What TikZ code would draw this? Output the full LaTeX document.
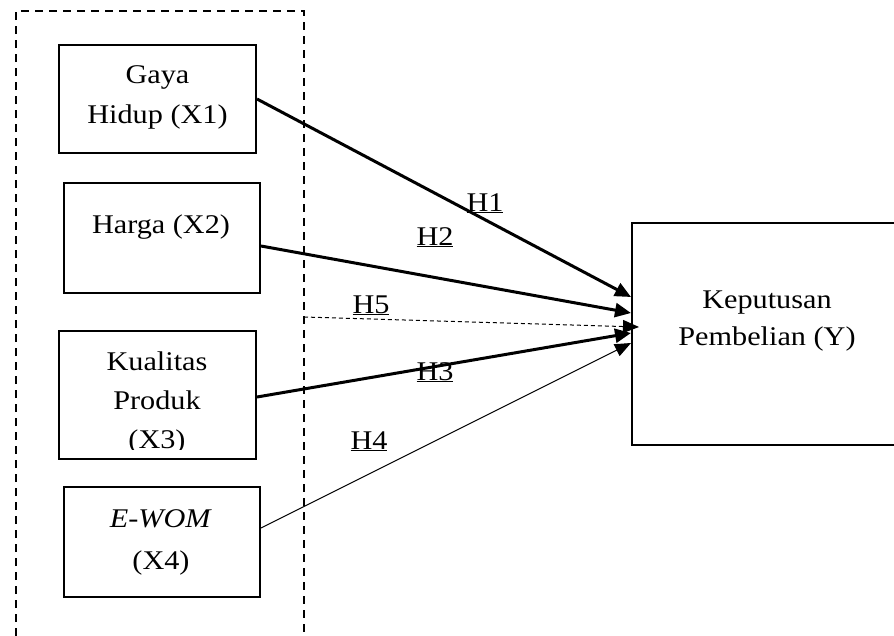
\documentclass[tikz,border=0pt]{standalone}
\usepackage{fontspec}
\setmainfont[FakeStretch=1.12]{Liberation Serif}
\usetikzlibrary{arrows.meta,calc}
\tikzset{
  var-box/.style={
    draw=black,
    line width=2pt,
    rectangle,
    inner sep=0pt
  },
  var-text/.style={
    align=center,
    inner sep=0pt,
    anchor=north,
    font=\fontsize{27}{40}\selectfont
  },
  hyp/.style={
    inner sep=0pt,
    anchor=base,
    font=\fontsize{27}{30}\selectfont
  },
  group-frame/.style={
    draw=black,
    line width=2pt,
    dash pattern=on 8pt off 6pt
  },
  heavy/.style={
    line width=3pt,
    -{Triangle[length=16pt,width=14pt]}
  },
  light/.style={
    line width=1pt,
    -{Triangle[length=16pt,width=13pt]}
  },
  light-dashed/.style={
    line width=1pt,
    dash pattern=on 4pt off 3pt,
    -{Triangle[length=16pt,width=13pt]}
  }
}

\begin{document}
\begin{tikzpicture}[x=1pt,y=-1pt]
  \useasboundingbox (0,0) rectangle (894,635);

  % dashed group round the independent variables
  \draw[group-frame] (16,650) -- (16,11) -- (304,11) -- (304,650);
  \coordinate (grp) at (304,317);

  % independent variables
  \node[var-box, minimum width=197pt, minimum height=108pt] (x1) at (157.5,99) {};
  \node[var-text] (x1t) at (157.5,65) {Gaya\\Hidup (X1)};

  \node[var-box, minimum width=196pt, minimum height=110pt] (x2) at (162,238) {};
  \node[var-text] (x2t) at (161,215) {Harga (X2)};

  \node[var-box, minimum width=197pt, minimum height=128pt] (x3) at (157.5,395) {};
  \begin{scope}
    \clip (x3.north west) rectangle ([yshift=11pt]x3.south east);
    \node[var-text, font=\fontsize{27}{39}\selectfont] (x3t) at (157,352) {Kualitas\\Produk\\(X3)};
  \end{scope}

  \node[var-box, minimum width=196pt, minimum height=110pt] (x4) at (162,542) {};
  \node[var-text, font=\fontsize{27}{42}\selectfont] (x4t) at (161,509) {\textit{E-WOM}\\(X4)};

  % dependent variable
  \node[var-box, minimum width=268pt, minimum height=222pt] (y) at (766,334) {};
  \node[var-text, font=\fontsize{27}{37}\selectfont] (yt) at (767,291) {Keputusan\\Pembelian (Y)};

  % hypotheses
  \draw[heavy] (x1.east) -- ([yshift=37pt]y.west);
  \draw[heavy] ([yshift=-8pt]x2.east) -- ([yshift=21pt]y.west);
  \draw[light-dashed] (grp) -- ([xshift=8pt,yshift=7pt]y.west);
  \draw[heavy] ([yshift=-2pt]x3.east) -- ([yshift=1pt]y.west);
  \draw[light] ([yshift=14pt]x4.east) -- ([yshift=-9pt]y.west);

  \node[hyp] (h1) at (485,211) {\underline{H1}};
  \node[hyp] (h2) at (435,245) {\underline{H2}};
  \node[hyp] (h5) at (371,313) {\underline{H5}};
  \node[hyp] (h3) at (435,380) {\underline{H3}};
  \node[hyp] (h4) at (369,449) {\underline{H4}};
\end{tikzpicture}
\end{document}
